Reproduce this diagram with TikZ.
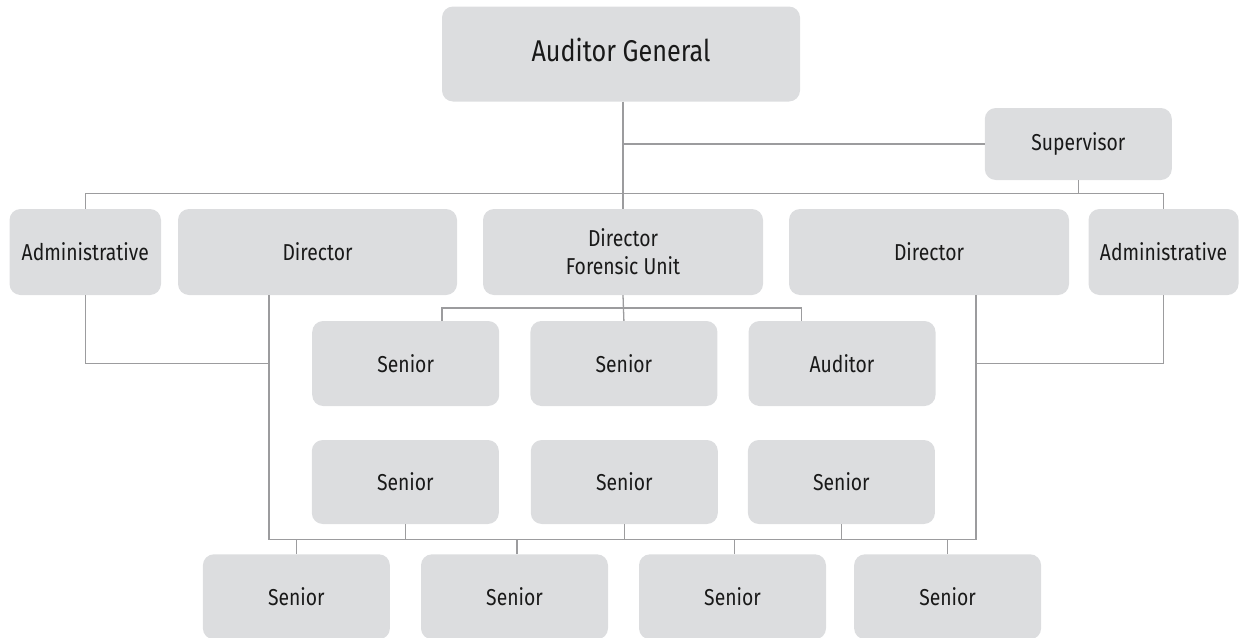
\documentclass[tikz,border=0pt]{standalone}
\usepackage{fontspec}
\setmainfont{Fira Sans}[FakeStretch=0.84]
\definecolor{boxgray}{HTML}{DCDDDF}
\definecolor{linegray}{HTML}{9C9C9E}
\begin{document}
\begin{tikzpicture}[x=1pt,y=-1pt,
  box/.style={fill=boxgray, rounded corners=11pt, inner sep=0pt, align=center,
    font=\fontsize{23}{27.7}\selectfont, text=black!90},
  conn/.style={draw=linegray, line width=1.3pt}]
\useasboundingbox (0,0) rectangle (1239,637);
% top
\node[box, minimum width=358pt, minimum height=95pt, text depth=8pt,
  font=\fontsize{30}{34}\selectfont] (ag) at (621,54) {Auditor General};
\node[box, minimum width=187pt, minimum height=72pt] (sup) at (1078.3,144) {Supervisor};
% second level
\node[box, minimum width=151.5pt, minimum height=86pt] (adm1) at (85.25,252) {Administrative};
\node[box, minimum width=279pt, minimum height=86pt] (dir1) at (317.5,252) {Director};
\node[box, minimum width=280pt, minimum height=86pt] (dfu) at (623,252) {Director\\Forensic Unit};
\node[box, minimum width=280pt, minimum height=86pt] (dir2) at (929,252) {Director};
\node[box, minimum width=150pt, minimum height=86pt] (adm2) at (1163.5,252) {Administrative};
% row 1
\node[box, minimum width=187pt, minimum height=85pt] (s11) at (405.7,363.5) {Senior};
\node[box, minimum width=187pt, minimum height=85pt] (s12) at (623.9,363.5) {Senior};
\node[box, minimum width=187pt, minimum height=85pt] (a13) at (842,363.5) {Auditor};
% row 2
\node[box, minimum width=187pt, minimum height=84pt] (s21) at (405.3,482) {Senior};
\node[box, minimum width=187pt, minimum height=84pt] (s22) at (624.3,482) {Senior};
\node[box, minimum width=187pt, minimum height=84pt] (s23) at (841.4,482) {Senior};
% bottom row
\node[box, minimum width=187pt, minimum height=85pt] (b1) at (296.4,596.8) {Senior};
\node[box, minimum width=187pt, minimum height=85pt] (b2) at (514.5,596.8) {Senior};
\node[box, minimum width=187pt, minimum height=85pt] (b3) at (732.5,596.8) {Senior};
\node[box, minimum width=187pt, minimum height=85pt] (b4) at (947.6,596.8) {Senior};
% helper coordinates
\coordinate (topbus) at (0,193.3);
\coordinate (fbus) at (0,308);
\coordinate (sidey) at (0,363.3);
\coordinate (botbus) at (0,539.3);
\coordinate (dl) at (269,0);
\coordinate (dr) at (976,0);
\coordinate (fl) at (442,0);
\coordinate (fr) at (801.5,0);
% connectors
\draw[conn] (ag.south -| dfu.north) -- (dfu.north);
\draw[conn] (sup.west) -- (sup.west -| dfu.north);
\draw[conn] (adm1.north) -- (adm1.north |- topbus) -- (adm2.north |- topbus) -- (adm2.north);
\draw[conn] (sup.south) -- (sup.south |- topbus);
% forensic unit
\draw[conn] (dfu.south) -- (s12.north);
\draw[conn] (fl |- s11.north) -- (fl |- fbus) -- (fr |- fbus) -- (fr |- a13.north);
% directors and administratives
\draw[conn] (dir1.south -| dl) -- (dl |- botbus) -- (dr |- botbus) -- (dir2.south -| dr);
\draw[conn] (adm1.south) -- (adm1.south |- sidey) -- (dl |- sidey);
\draw[conn] (adm2.south) -- (adm2.south |- sidey) -- (dr |- sidey);
% row 2 to bottom bus
\draw[conn] (s21.south) -- (s21.south |- botbus);
\draw[conn] (s22.south) -- (s22.south |- botbus);
\draw[conn] (s23.south) -- (s23.south |- botbus);
% bottom bus to bottom row
\draw[conn] (b1.north) -- (b1.north |- botbus);
\draw[conn] (b2.north) ++(2.5,0) -- (517,539.3);
\draw[conn] (b3.north) ++(2.2,0) -- (734.7,539.3);
\draw[conn] (b4.north) -- (b4.north |- botbus);
\end{tikzpicture}
\end{document}
